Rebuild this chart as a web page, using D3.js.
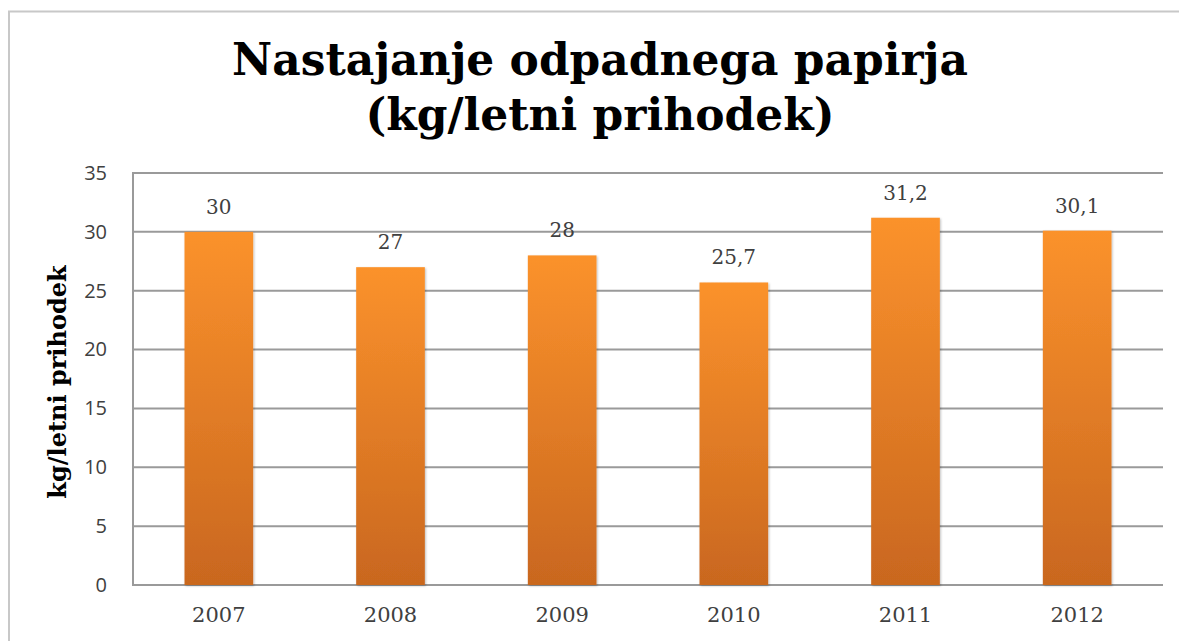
<!DOCTYPE html>
<html>
<head>
<meta charset="utf-8">
<script src="https://cdn.jsdelivr.net/npm/d3@7"></script>
<style>
  body { margin: 0; background: #fff; }
  svg { display: block; }
</style>
</head>
<body>
<svg width="1179" height="641"></svg>
<script>
// podatki
const years = ["2007", "2008", "2009", "2010", "2011", "2012"];
const values = [30, 27, 28, 25.7, 31.2, 30.1];
const yTicks = [0, 5, 10, 15, 20, 25, 30, 35];
const titleLines = ["Nastajanje odpadnega papirja", "(kg/letni prihodek)"];
const yTitle = "kg/letni prihodek";

const svg = d3.select("svg");
const plot = { left: 133, right: 1163, top: 173, bottom: 585 };

// okvir
svg.append("rect")
    .attr("x", 9).attr("y", 11.5)
    .attr("width", 1200).attr("height", 700)
    .attr("fill", "none")
    .attr("stroke", "#c8c8c8")
    .attr("stroke-width", 2);

// gradient za stolpce
const defs = svg.append("defs");
const grad = defs.append("linearGradient")
    .attr("id", "barGrad")
    .attr("x1", 0).attr("y1", 0).attr("x2", 0).attr("y2", 1);
grad.append("stop").attr("offset", "0%").attr("stop-color", "#fb922c");
grad.append("stop").attr("offset", "100%").attr("stop-color", "#c9671f");

const shadow = defs.append("filter").attr("id", "shadow")
    .attr("x", "-10%").attr("y", "-10%").attr("width", "130%").attr("height", "130%");
shadow.append("feDropShadow")
    .attr("dx", 1).attr("dy", 1).attr("stdDeviation", 1.2)
    .attr("flood-color", "#000").attr("flood-opacity", 0.25);

const x = d3.scaleBand()
    .domain(years)
    .range([plot.left, plot.right])
    .paddingInner(0.6)
    .paddingOuter(0.3);

const y = d3.scaleLinear()
    .domain([0, 35])
    .range([plot.bottom, plot.top]);

// mreža
svg.append("g")
    .selectAll("line")
    .data(yTicks)
    .enter().append("line")
    .attr("x1", plot.left).attr("x2", plot.right)
    .attr("y1", d => y(d)).attr("y2", d => y(d))
    .attr("stroke", "#9a9a9a")
    .attr("stroke-width", 2);

svg.append("line")
    .attr("x1", plot.left).attr("x2", plot.left)
    .attr("y1", plot.top - 1).attr("y2", plot.bottom + 1)
    .attr("stroke", "#9a9a9a")
    .attr("stroke-width", 2);

// os y
const yAxis = svg.append("g")
    .attr("transform", `translate(${plot.left},0)`)
    .call(d3.axisLeft(y).tickValues(yTicks).tickSize(0).tickPadding(26));
yAxis.select(".domain").remove();
yAxis.selectAll("text")
    .attr("font-family", "'Open Sans', 'Noto Sans', sans-serif")
    .attr("font-size", 20)
    .attr("fill", "#404040");

// os x
const xAxis = svg.append("g")
    .attr("transform", `translate(0,${plot.bottom})`)
    .call(d3.axisBottom(x).tickSize(0).tickPadding(22));
xAxis.select(".domain").remove();
xAxis.selectAll("text")
    .attr("font-family", "'DejaVu Serif', serif")
    .attr("font-size", 21)
    .attr("fill", "#404040");

// stolpci
svg.append("g")
    .selectAll("rect")
    .data(values)
    .enter().append("rect")
    .attr("x", (d, i) => x(years[i]))
    .attr("y", d => y(d))
    .attr("width", x.bandwidth())
    .attr("height", d => plot.bottom - y(d))
    .attr("fill", "url(#barGrad)")
    .attr("filter", "url(#shadow)");

// oznake vrednosti
svg.append("g")
    .selectAll("text")
    .data(values)
    .enter().append("text")
    .attr("x", (d, i) => x(years[i]) + x.bandwidth() / 2)
    .attr("y", d => y(d) - 18)
    .attr("text-anchor", "middle")
    .attr("font-family", "'DejaVu Serif', serif")
    .attr("font-size", 20)
    .attr("fill", "#404040")
    .text(d => String(d).replace(".", ","));

// naslov
const titleTargets = [{ y: 75, w: 736 }, { y: 130, w: 469 }];
titleLines.forEach((t, i) => {
    const el = svg.append("text")
        .attr("x", 600)
        .attr("y", titleTargets[i].y)
        .attr("text-anchor", "middle")
        .attr("font-family", "'DejaVu Serif', serif")
        .attr("font-weight", "bold")
        .attr("font-size", 50)
        .attr("fill", "#000")
        .text(t);
    const w = el.node().getComputedTextLength();
    el.attr("font-size", 50 * titleTargets[i].w / w);
});

// naslov osi y
svg.append("text")
    .attr("transform", `translate(66,${(plot.top + plot.bottom) / 2 + 3}) rotate(-90)`)
    .attr("text-anchor", "middle")
    .attr("font-family", "'DejaVu Serif', serif")
    .attr("font-weight", "bold")
    .attr("font-size", 24)
    .attr("fill", "#000")
    .text(yTitle);
</script>
</body>
</html>
